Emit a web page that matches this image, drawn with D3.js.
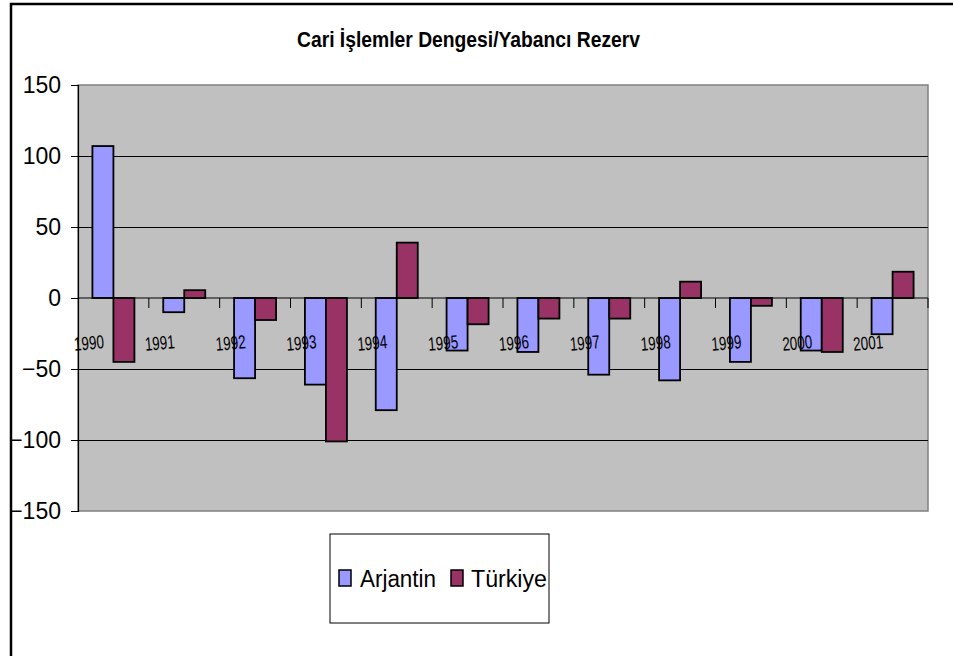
<!DOCTYPE html>
<html>
<head>
<meta charset="utf-8">
<script src="https://cdn.jsdelivr.net/npm/d3@7"></script>
<style>
  html, body { margin: 0; padding: 0; background: #fff; }
  svg { display: block; font-family: "Liberation Sans", Arial, sans-serif; }
</style>
</head>
<body>
<svg id="chart" width="953" height="656"></svg>
<script>
// Yearly values for the two countries
const years = ["1990","1991","1992","1993","1994","1995","1996","1997","1998","1999","2000","2001"];
const arjantin = [107, -10, -56.5, -61, -79, -37, -38, -54, -58, -45, -37, -25.5];
const turkiye  = [-45, 5.5, -15.5, -101, 39, -18.5, -14.5, -14.5, 11.5, -5.5, -38, 18.5];
const seriesNames = ["Arjantin", "Türkiye"];
const seriesColors = ["#9999FF", "#993366"];
const yTicks = [150, 100, 50, 0, -50, -100, -150];
const titleText = "Cari İşlemler Dengesi/Yabancı Rezerv";

const svg = d3.select("#chart");

// outer chart frame (open to the right and bottom)
svg.append("rect")
  .attr("x", 11).attr("y", 4).attr("width", 1000).attr("height", 700)
  .attr("fill", "#fff").attr("stroke", "#000").attr("stroke-width", 2.5);

const plot = { left: 78, right: 928, top: 85, bottom: 511 };

const x0 = d3.scaleBand().domain(years).range([plot.left, plot.right]).padding(0);
const x1 = d3.scaleBand().domain(seriesNames).range([0, x0.bandwidth()])
  .paddingInner(0).paddingOuter(0.686);
const y = d3.scaleLinear().domain([-150, 150]).range([plot.bottom, plot.top]);

// plot background
svg.append("rect")
  .attr("x", plot.left).attr("y", plot.top)
  .attr("width", plot.right - plot.left).attr("height", plot.bottom - plot.top)
  .attr("fill", "#C0C0C0").attr("stroke", "#808080").attr("stroke-width", 1.5);

// horizontal gridlines
svg.append("g").selectAll("line")
  .data(yTicks.filter(t => t !== 150 && t !== -150 && t !== 0))
  .join("line")
  .attr("x1", plot.left).attr("x2", plot.right)
  .attr("y1", d => Math.round(y(d)) + 0.5).attr("y2", d => Math.round(y(d)) + 0.5)
  .attr("stroke", "#000").attr("stroke-width", 1);

// value axis
const yAxis = d3.axisLeft(y).tickValues(yTicks).tickSize(7).tickPadding(10).tickFormat(d3.format("d"));
const yg = svg.append("g").attr("transform", `translate(${plot.left},0)`).call(yAxis);
yg.select(".domain").attr("stroke", "#000").attr("stroke-width", 1.2);
yg.selectAll(".tick line").attr("stroke", "#000");
yg.selectAll(".tick text")
  .attr("font-size", 23).attr("fill", "#000")
  .attr("font-family", "'Liberation Sans', Arial, sans-serif");

// bars
const groups = svg.append("g").selectAll("g")
  .data(years.map((yr, i) => ({ yr, vals: [arjantin[i], turkiye[i]] })))
  .join("g")
  .attr("transform", d => `translate(${x0(d.yr)},0)`);

groups.selectAll("rect")
  .data(d => d.vals.map((v, j) => ({ name: seriesNames[j], v, j })))
  .join("rect")
  .attr("x", d => x1(d.name))
  .attr("width", x1.bandwidth())
  .attr("y", d => y(Math.max(0, d.v)))
  .attr("height", d => Math.abs(y(d.v) - y(0)))
  .attr("fill", d => seriesColors[d.j])
  .attr("stroke", "#000").attr("stroke-width", 1.8);

// category axis along zero
const zeroY = y(0);
svg.append("line")
  .attr("x1", plot.left).attr("x2", plot.right)
  .attr("y1", zeroY).attr("y2", zeroY)
  .attr("stroke", "#000").attr("stroke-width", 1.2);
svg.append("g").selectAll("line")
  .data(years.slice(1).concat(["end"]))
  .join("line")
  .attr("x1", d => d === "end" ? plot.right : x0(d))
  .attr("x2", d => d === "end" ? plot.right : x0(d))
  .attr("y1", zeroY).attr("y2", zeroY + 10)
  .attr("stroke", "#000").attr("stroke-width", 1);

// category labels
svg.append("g").selectAll("text")
  .data(years)
  .join("text")
  .attr("transform", d => `translate(${x0(d) + 11.5},${zeroY + 51.5}) rotate(-5)`)
  .attr("text-anchor", "middle")
  .attr("font-size", 19)
  .attr("textLength", 30)
  .attr("lengthAdjust", "spacingAndGlyphs")
  .attr("fill", "#000")
  .text(d => d);

// title
svg.append("text")
  .attr("x", 468.5).attr("y", 47)
  .attr("text-anchor", "middle")
  .attr("font-size", 22).attr("font-weight", "bold")
  .attr("textLength", 343).attr("lengthAdjust", "spacingAndGlyphs")
  .attr("fill", "#000")
  .text(titleText);

// legend
const lg = svg.append("g");
lg.append("rect")
  .attr("x", 330).attr("y", 534).attr("width", 219).attr("height", 89)
  .attr("fill", "#fff").attr("stroke", "#000").attr("stroke-width", 1);
const legendItems = [
  { name: seriesNames[0], color: seriesColors[0], sx: 339, tx: 360 },
  { name: seriesNames[1], color: seriesColors[1], sx: 451, tx: 471 }
];
legendItems.forEach(it => {
  lg.append("rect")
    .attr("x", it.sx).attr("y", 570).attr("width", 12).attr("height", 16)
    .attr("fill", it.color).attr("stroke", "#000").attr("stroke-width", 1.5);
  lg.append("text")
    .attr("x", it.tx).attr("y", 587)
    .attr("font-size", 23).attr("fill", "#000")
    .attr("textLength", 76).attr("lengthAdjust", "spacingAndGlyphs")
    .text(it.name);
});
</script>
</body>
</html>
